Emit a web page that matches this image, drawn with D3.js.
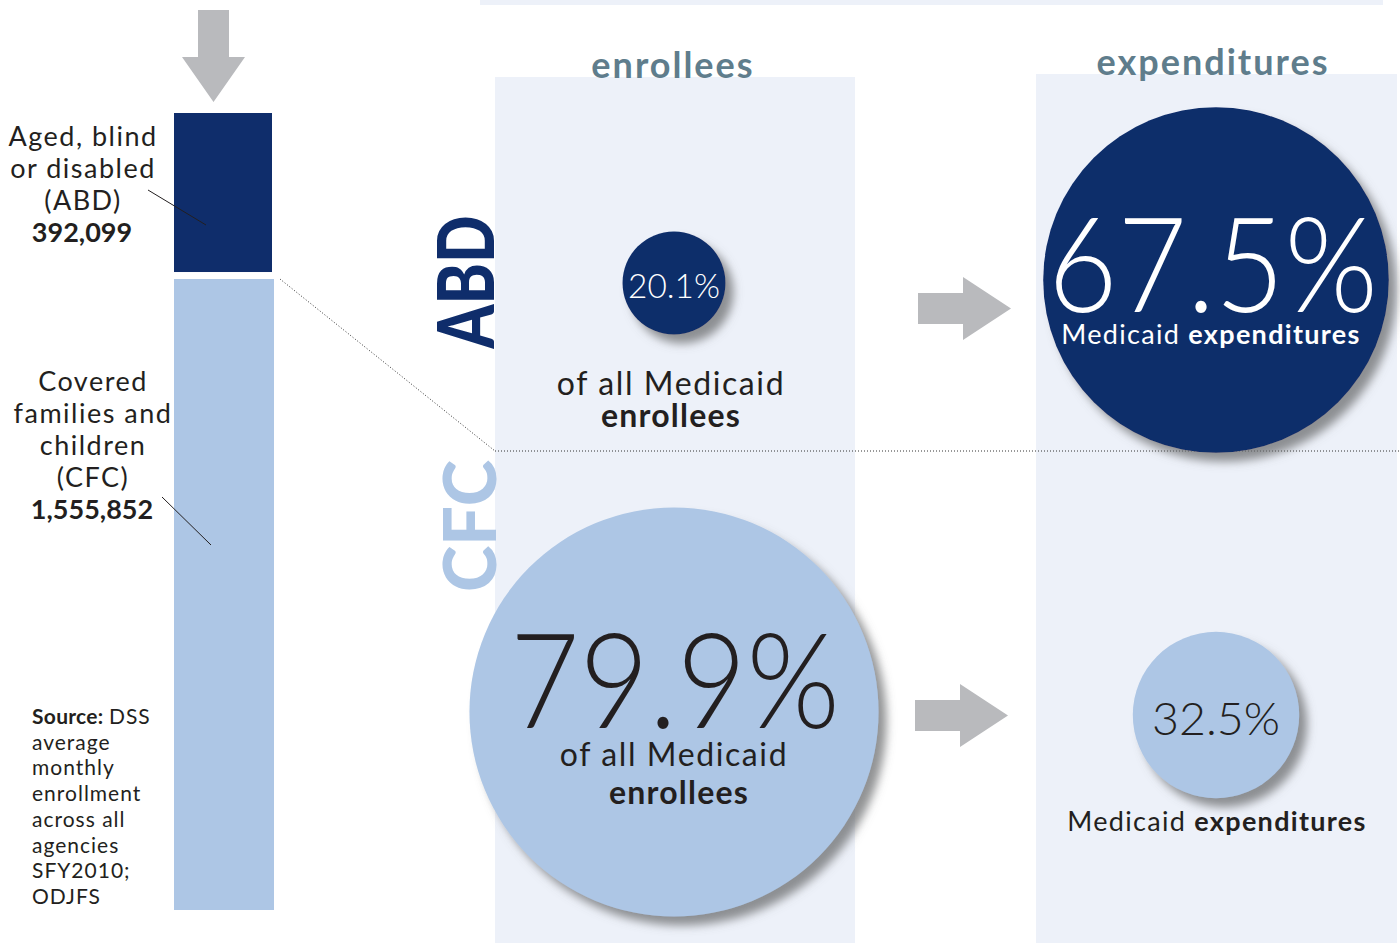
<!DOCTYPE html>
<html><head><meta charset="utf-8">
<script src="https://cdn.jsdelivr.net/npm/d3@7"></script>
<style>
html,body{margin:0;padding:0;background:#fff;}
svg{display:block;font-family:Lato,"Noto Sans",sans-serif;}
</style></head>
<body>
<svg id="chart" width="1400" height="943"></svg>
<script>
// ---- data ----
const categories = ["ABD", "CFC"];
const categoryLabels = [["Aged, blind", "or disabled", "(ABD)"], ["Covered", "families and", "children", "(CFC)"]];
const enrollment = [392099, 1555852];
const enrolleePct = [20.1, 79.9];
const expenditurePct = [67.5, 32.5];
const columnTitles = ["enrollees", "expenditures"];
const sourceLines = ["DSS", "average", "monthly", "enrollment", "across all", "agencies", "SFY2010;", "ODJFS"];

const navy = "#0f2d6b", light = "#adc6e5", panel = "#edf1f9", grey = "#b9babd", titleCol = "#5f7d8c", dark = "#231f20";

const svg = d3.select("#chart");
const defs = svg.append("defs");
const f = defs.append("filter").attr("id", "shadow").attr("x", "-20%").attr("y", "-20%").attr("width", "150%").attr("height", "150%");
f.append("feDropShadow").attr("dx", 8).attr("dy", 9).attr("stdDeviation", 5).attr("flood-color", "#6d6e71").attr("flood-opacity", 0.75);

// panels
svg.append("rect").attr("x", 480).attr("y", 0).attr("width", 903).attr("height", 5).attr("fill", panel);
svg.append("rect").attr("x", 495).attr("y", 77).attr("width", 360).attr("height", 866).attr("fill", panel);
svg.append("rect").attr("x", 1036).attr("y", 74).attr("width", 361).attr("height", 869).attr("fill", panel);

// column titles
const colX = d3.scalePoint().domain(columnTitles).range([673, 1213]);
svg.selectAll(".ctitle").data(columnTitles).join("text")
  .attr("x", d => colX(d)).attr("y", (d, i) => i ? 75 : 78)
  .attr("text-anchor", "middle").attr("font-size", 36).attr("font-weight", 700)
  .attr("letter-spacing", 2).attr("fill", titleCol).text(d => d);

// down arrow
svg.append("path").attr("d", "M198,10 L229,10 L229,57 L245,57 L213.5,102 L182,57 L198,57 Z").attr("fill", grey);

// stacked bar
const total = d3.sum(enrollment);
const gap = 7;
const barTop = 113, barBottom = 910;
const yBar = d3.scaleLinear().domain([0, total]).range([0, barBottom - barTop - gap]);
let acc = 0;
const barData = enrollment.map((v, i) => { const y0 = barTop + yBar(acc) + (i ? gap : 0); acc += v; return { y: y0, h: yBar(v), i }; });
svg.selectAll(".bar").data(barData).join("rect")
  .attr("x", 174).attr("width", (d) => d.i ? 100 : 98)
  .attr("y", d => d.y).attr("height", d => d.h)
  .attr("fill", d => d.i ? light : navy);

// leader lines
svg.append("line").attr("x1", 148).attr("y1", 190).attr("x2", 206).attr("y2", 225).attr("stroke", dark).attr("stroke-width", 1);
svg.append("line").attr("x1", 162).attr("y1", 497).attr("x2", 211).attr("y2", 545).attr("stroke", dark).attr("stroke-width", 1);

// left labels
const fmt = d3.format(",");
const lab0 = svg.append("text").attr("text-anchor", "middle").attr("font-size", 27).attr("fill", dark);
categoryLabels[0].forEach((t, j) => lab0.append("tspan").attr("x", 83).attr("y", 146 + j * 32).attr("letter-spacing", 1.5).text(t));
lab0.append("tspan").attr("x", 82).attr("y", 242).attr("font-weight", 700).text(fmt(enrollment[0]));
const lab1 = svg.append("text").attr("text-anchor", "middle").attr("font-size", 27).attr("fill", dark);
categoryLabels[1].forEach((t, j) => lab1.append("tspan").attr("x", 93).attr("y", 391 + j * 32).attr("letter-spacing", 1.5).text(t));
lab1.append("tspan").attr("x", 92).attr("y", 519).attr("font-weight", 700).text(fmt(enrollment[1]));

// source
const src = svg.append("text").attr("font-size", 21).attr("fill", dark).attr("letter-spacing", 1);
sourceLines.forEach((t, j) => {
  const ts = src.append("tspan").attr("x", 32).attr("y", 724 + j * 25.7);
  if (j === 0) { ts.append("tspan").attr("font-weight", 700).attr("letter-spacing", 0.3).text("Source: "); ts.append("tspan").text(t); }
  else ts.text(t);
});

// dotted lines
const cfcTop = barData[1].y;
svg.append("line").attr("x1", 280).attr("y1", cfcTop).attr("x2", 495).attr("y2", 451)
  .attr("stroke", "#333").attr("stroke-width", 1).attr("stroke-dasharray", "1,2");
svg.append("line").attr("x1", 495).attr("y1", 451).attr("x2", 1400).attr("y2", 451)
  .attr("stroke", "#333").attr("stroke-width", 1).attr("stroke-dasharray", "1,2");

// row labels (rotated)
const rowY = d3.scaleOrdinal().domain(categories).range([282, 526]);
svg.selectAll(".rowlab").data(categories).join("text")
  .attr("transform", d => `translate(${d === "ABD" ? 494 : 496},${rowY(d)}) rotate(-90)`)
  .attr("text-anchor", "middle").attr("font-size", d => d === "ABD" ? 78 : 72).attr("font-weight", 900)
  .attr("textLength", d => d === "ABD" ? 133 : 132).attr("lengthAdjust", "spacingAndGlyphs")
  .attr("fill", d => d === "ABD" ? navy : light).text(d => d);

// right arrows
const arrowRows = [{ x: 918, y: 308.5 }, { x: 915, y: 715.5 }];
svg.selectAll(".rarrow").data(arrowRows).join("path")
  .attr("d", d => `M${d.x},${d.y - 15.5} L${d.x + 45},${d.y - 15.5} L${d.x + 45},${d.y - 31.5} L${d.x + 93},${d.y} L${d.x + 45},${d.y + 31.5} L${d.x + 45},${d.y + 15.5} L${d.x},${d.y + 15.5} Z`)
  .attr("fill", grey);

// circles
const r = d3.scaleLinear().domain([0, 100]).range([0, 256]);
const circles = [
  { cat: "ABD", kind: "enr", v: enrolleePct[0], cx: 674, cy: 283, fill: navy },
  { cat: "ABD", kind: "exp", v: expenditurePct[0], cx: 1216, cy: 280, fill: navy },
  { cat: "CFC", kind: "enr", v: enrolleePct[1], cx: 674, cy: 712, fill: light },
  { cat: "CFC", kind: "exp", v: expenditurePct[1], cx: 1216, cy: 715, fill: light }
];
svg.selectAll(".bub").data(circles).join("circle")
  .attr("cx", d => d.cx).attr("cy", d => d.cy).attr("r", d => r(d.v))
  .attr("fill", d => d.fill).attr("filter", "url(#shadow)");

const pct = v => v.toFixed(1) + "%";
const LS = 1.6;
// ABD enrollee
svg.append("text").attr("x", 674).attr("y", 298).attr("text-anchor", "middle").attr("font-size", 34).attr("font-weight", 300)
  .attr("textLength", 92).attr("lengthAdjust", "spacingAndGlyphs").attr("fill", "#fff").text(pct(enrolleePct[0]));
svg.append("text").attr("x", 671).attr("y", 395).attr("text-anchor", "middle").attr("font-size", 32).attr("letter-spacing", LS).attr("fill", dark).text("of all Medicaid");
svg.append("text").attr("x", 671).attr("y", 427).attr("text-anchor", "middle").attr("font-size", 32).attr("font-weight", 700).attr("letter-spacing", 1.2).attr("fill", dark).text("enrollees");
// ABD expenditures
svg.append("text").attr("x", 1213).attr("y", 312).attr("text-anchor", "middle").attr("font-size", 132).attr("font-weight", 300)
  .attr("textLength", 330).attr("lengthAdjust", "spacingAndGlyphs").attr("fill", "#fff").text(pct(expenditurePct[0]));
const me = svg.append("text").attr("x", 1211).attr("y", 344).attr("text-anchor", "middle").attr("font-size", 27).attr("letter-spacing", 1.3).attr("fill", "#fff");
me.append("tspan").text("Medicaid ");
me.append("tspan").attr("font-weight", 700).text("expenditures");
// CFC enrollee
svg.append("text").attr("x", 675).attr("y", 728).attr("text-anchor", "middle").attr("font-size", 132).attr("font-weight", 300)
  .attr("textLength", 330).attr("lengthAdjust", "spacingAndGlyphs").attr("fill", dark).text(pct(enrolleePct[1]));
svg.append("text").attr("x", 674).attr("y", 766).attr("text-anchor", "middle").attr("font-size", 32).attr("letter-spacing", LS).attr("fill", dark).text("of all Medicaid");
svg.append("text").attr("x", 679).attr("y", 804).attr("text-anchor", "middle").attr("font-size", 32).attr("font-weight", 700).attr("letter-spacing", 1.2).attr("fill", dark).text("enrollees");
// CFC expenditures
svg.append("text").attr("x", 1216).attr("y", 735).attr("text-anchor", "middle").attr("font-size", 46).attr("font-weight", 300)
  .attr("textLength", 128).attr("lengthAdjust", "spacingAndGlyphs").attr("fill", dark).text(pct(expenditurePct[1]));
const me2 = svg.append("text").attr("x", 1217).attr("y", 831).attr("text-anchor", "middle").attr("font-size", 27).attr("letter-spacing", 1.3).attr("fill", dark);
me2.append("tspan").text("Medicaid ");
me2.append("tspan").attr("font-weight", 700).text("expenditures");
</script>
</body></html>
